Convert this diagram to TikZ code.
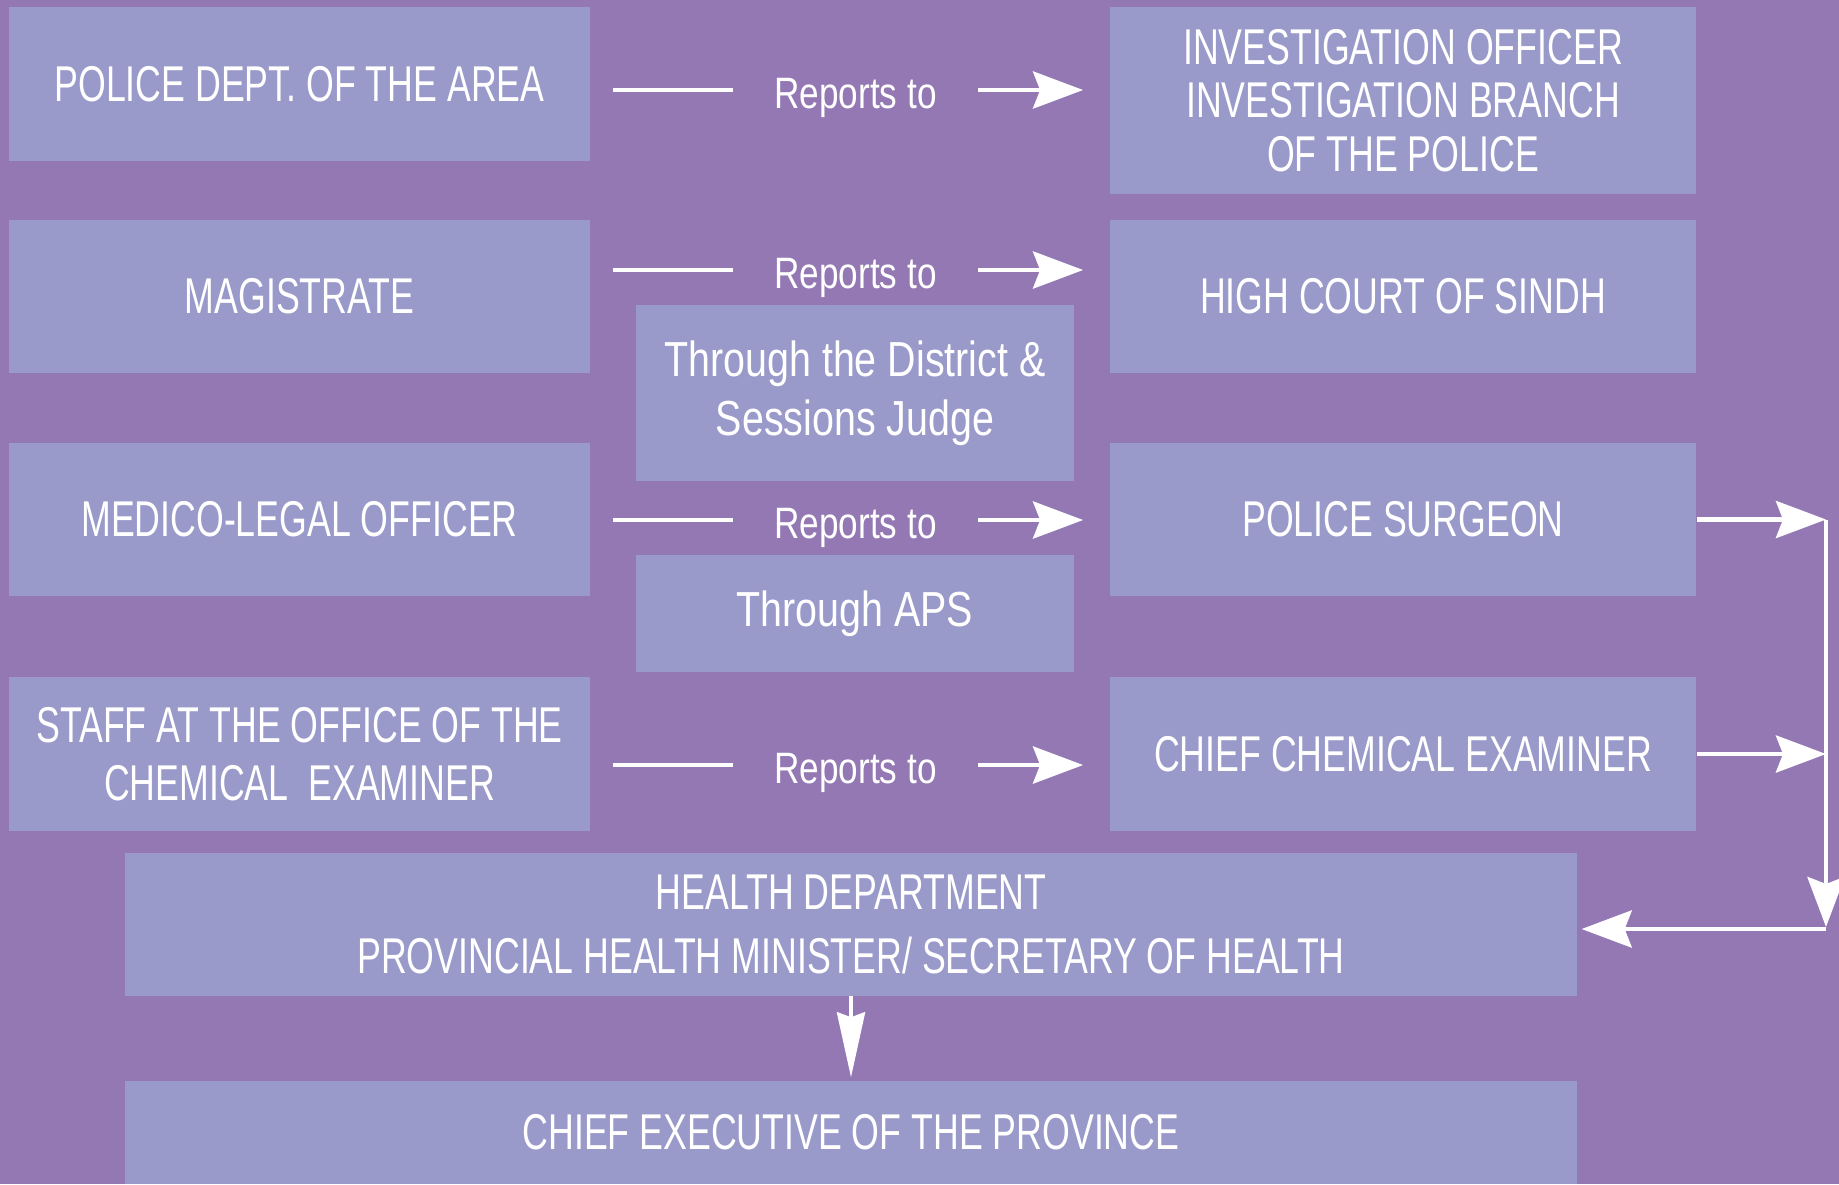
\documentclass[tikz,border=0pt]{standalone}
\usepackage{fontspec}
\setmainfont{Liberation Sans}[FakeStretch=0.71]
\newfontfamily\lowfont{Liberation Sans}[FakeStretch=0.8]
\usepackage{tikz}
\usetikzlibrary{arrows.meta}
\usepackage{xcolor}
\definecolor{bgpurple}{RGB}{147,120,180}
\definecolor{boxlilac}{RGB}{153,153,202}

\begin{document}
\begin{tikzpicture}[x=0.01cm, y=-0.01cm,
		box/.style={fill=boxlilac, text=white, align=center, inner sep=0pt, font=\fontsize{14.3}{16.5}\selectfont},
		leftbox/.style={box, minimum width=5.81cm, minimum height=1.53cm},
		rightbox/.style={box, minimum width=5.86cm, minimum height=1.53cm},
		midbox/.style={box, minimum width=4.37cm, font=\lowfont\fontsize{14}{16.8}\selectfont},
		wide/.style={box, minimum width=14.51cm},
		reports/.style={text=white, inner xsep=0.41cm, inner ysep=0pt, text height=0.36cm, text depth=0pt, font=\lowfont\fontsize{12.5}{14}\selectfont},
		link/.style={white, line width=1.35pt},
		arrow/.style={link, -{Stealth[length=0.5cm, width=0.37cm, inset=0.07cm]}},
		thinarrow/.style={white, line width=1.1pt, -{Stealth[length=0.65cm, width=0.28cm, inset=0.05cm]}}]
			\useasboundingbox (0,0) rectangle (1839,1184);
			\fill[bgpurple] (0,0) rectangle (1839,1184);
			\node[leftbox, minimum height=1.54cm] (police) at (299.5,84) {POLICE DEPT. OF THE AREA};
			\node[rightbox, minimum height=1.87cm, font=\fontsize{14.3}{15.2}\selectfont] (invest) at (1403,100.5) {INVESTIGATION OFFICER\\INVESTIGATION BRANCH\\OF THE POLICE};
			\node[leftbox] (magis) at (299.5,296.5) {MAGISTRATE};
			\node[rightbox] (court) at (1403,296.5) {HIGH COURT OF SINDH};
			\node[midbox, minimum height=1.75cm] (district) at (855,393) {Through the District \&\\Sessions Judge};
			\node[leftbox] (medico) at (299.5,519.5) {MEDICO-LEGAL OFFICER};
			\node[rightbox] (surgeon) at (1403,519.5) {POLICE SURGEON};
			\node[midbox, minimum height=1.16cm] (aps) at (855,613.5) {Through APS};
			\node[leftbox] (staff) at (299.5,754) {STAFF AT THE OFFICE OF THE\\CHEMICAL\ \ EXAMINER};
			\node[rightbox] (chemical) at (1403,754) {CHIEF CHEMICAL EXAMINER};
			\node[wide, minimum height=1.42cm, font=\fontsize{14.3}{18}\selectfont] (health) at (851,924.5) {HEALTH DEPARTMENT\\PROVINCIAL HEALTH MINISTER/ SECRETARY OF HEALTH};
			\node[wide, minimum height=1.03cm] (exec) at (851,1132.5) {CHIEF EXECUTIVE OF THE PROVINCE};
			\node[reports] (rep1) at (855.5,90) {Reports to};
			\node[reports] (rep2) at (855.5,270) {Reports to};
			\node[reports] (rep3) at (855.5,520) {Reports to};
			\node[reports] (rep4) at (855.5,765) {Reports to};
			\draw[link, shorten <=0.22cm] (police.east |- rep1.west) -- (rep1.west);
			\draw[link, shorten <=0.22cm] (magis.east |- rep2.west) -- (rep2.west);
			\draw[link, shorten <=0.22cm] (medico.east |- rep3.west) -- (rep3.west);
			\draw[link, shorten <=0.22cm] (staff.east |- rep4.west) -- (rep4.west);
			\draw[arrow, shorten >=0.26cm] (rep1.east) -- (invest.west |- rep1.east);
			\draw[arrow, shorten >=0.26cm] (rep2.east) -- (court.west |- rep2.east);
			\draw[arrow, shorten >=0.26cm] (rep3.east) -- (surgeon.west |- rep3.east);
			\draw[arrow, shorten >=0.26cm] (rep4.east) -- (chemical.west |- rep4.east);
			\coordinate (railtop) at (1826,520);
			\coordinate (railbot) at (1826,929);
			\draw[arrow] (surgeon.east) -- (surgeon.east -| railtop);
			\draw[arrow] (chemical.east) -- (chemical.east -| railtop);
			\draw[arrow, shorten >=0.02cm] (railtop) -- (railbot);
			\draw[arrow, shorten >=0.04cm] (railbot) -- (health.east |- railbot);
			\draw[thinarrow, shorten >=0.03cm] (health.south) -- (exec.north);
		\end{tikzpicture}
\end{document}
